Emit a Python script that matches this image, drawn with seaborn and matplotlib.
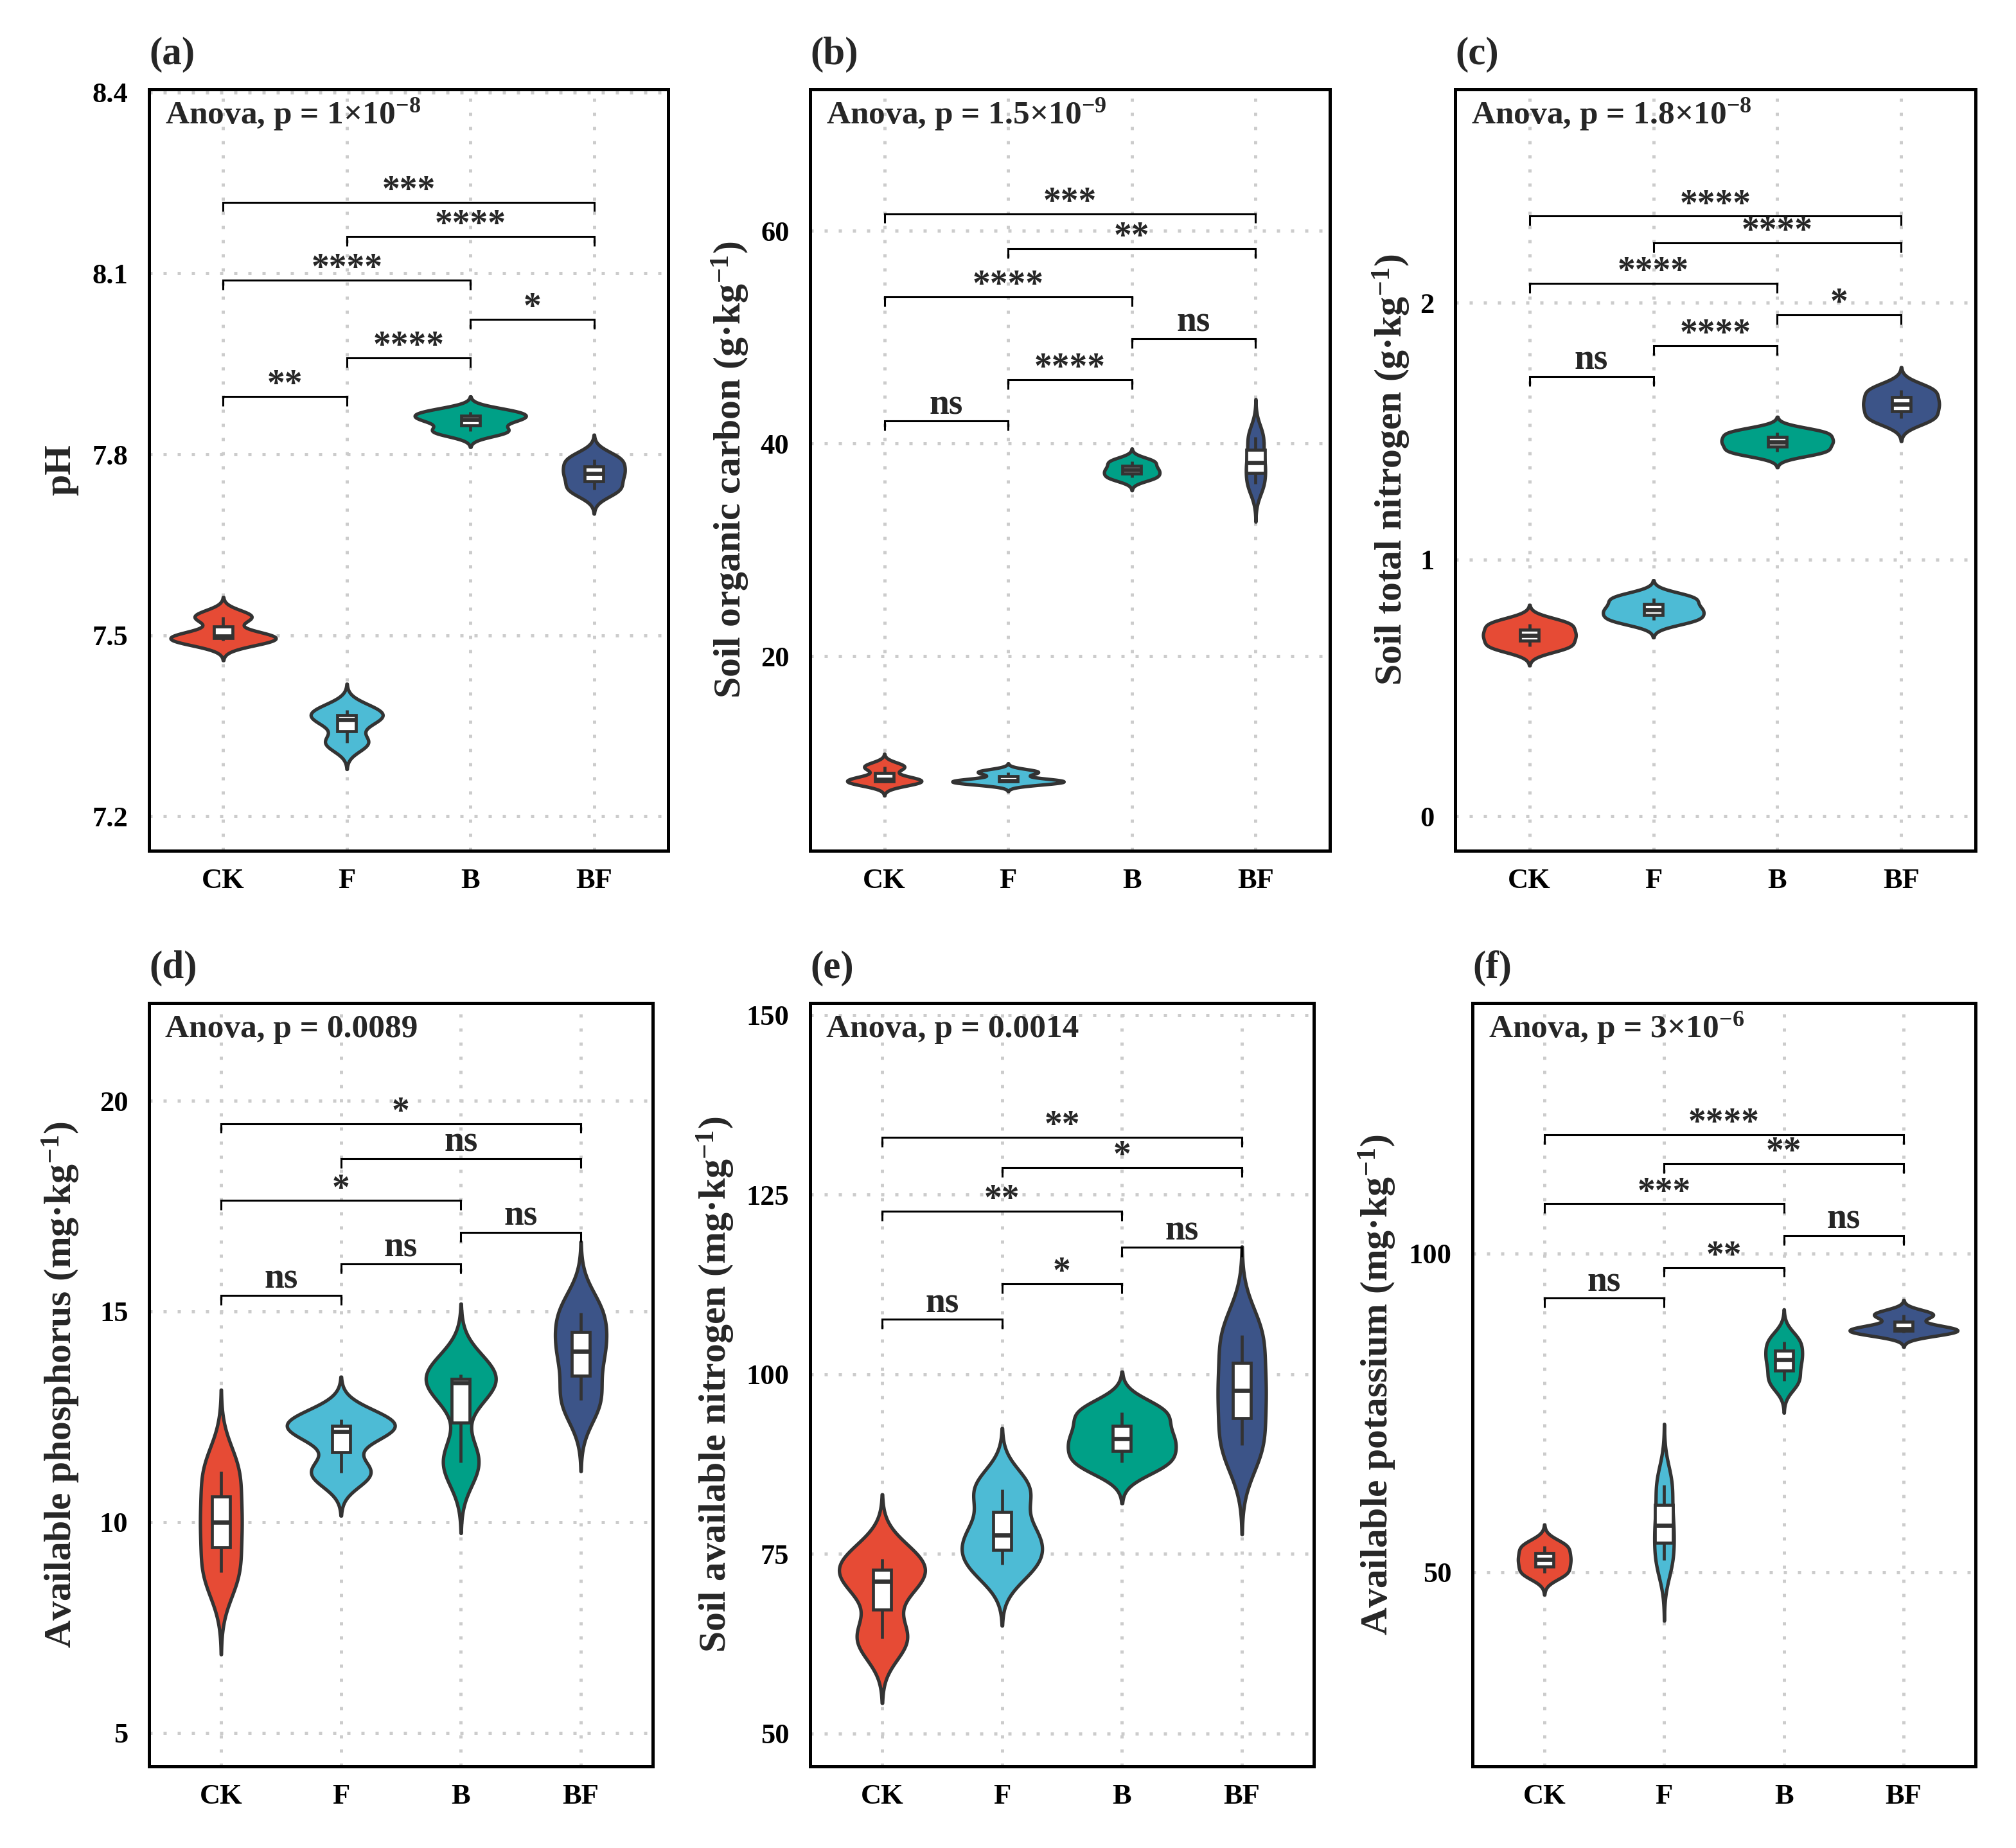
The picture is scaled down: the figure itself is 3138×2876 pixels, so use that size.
import numpy as np
import pandas as pd
import matplotlib
matplotlib.use("Agg")
import matplotlib.pyplot as plt
import seaborn as sns

# ---------------- data (n = 3 per treatment) ----------------
groups = ["CK", "F", "B", "BF"]
colors = ["#E64B35", "#4DBBD5", "#00A087", "#3C5488"]

ph = {"CK": [7.491, 7.499, 7.531], "F": [7.322, 7.360, 7.376],
      "B": [7.838, 7.858, 7.870], "BF": [7.742, 7.768, 7.792]}
soc = {"CK": [8.1, 8.4, 9.6], "F": [8.1, 8.3, 9.1],
       "B": [36.8, 37.5, 38.3], "BF": [36.2, 38.2, 40.6]}
stn = {"CK": [0.660, 0.705, 0.750], "F": [0.765, 0.805, 0.850],
       "B": [1.420, 1.458, 1.495], "BF": [1.550, 1.605, 1.660]}
ap = {"CK": [8.8, 10.0, 11.2], "F": [11.17, 12.15, 12.43],
      "B": [11.42, 13.30, 13.50], "BF": [12.89, 14.05, 14.97]}
an = {"CK": [63.2, 71.2, 74.3], "F": [73.5, 77.6, 84.0],
      "B": [87.7, 91.0, 94.7], "BF": [90.1, 97.7, 105.4]}
ak = {"CK": [49.85, 51.95, 54.05], "F": [51.9, 57.3, 63.7],
      "B": [80.0, 83.3, 86.2], "BF": [87.6, 88.2, 90.4]}

pairs = [("CK", "BF"), ("F", "BF"), ("CK", "B"), ("B", "BF"), ("F", "B"), ("CK", "F")]
ph_sig_y = [8.218, 8.161, 8.089, 8.024, 7.960, 7.896]
ph_sig = ["***", "****", "****", "*", "****", "**"]
soc_sig_y = [61.6, 58.3, 53.8, 49.85, 46.0, 42.1]
soc_sig = ["***", "**", "****", "ns", "****", "ns"]
stn_sig_y = [2.338, 2.234, 2.076, 1.953, 1.833, 1.713]
stn_sig = ["****", "****", "****", "*", "****", "ns"]
ap_sig_y = [19.46, 18.63, 17.63, 16.88, 16.13, 15.38]
ap_sig = ["*", "ns", "*", "ns", "ns", "ns"]
an_sig_y = [133.0, 128.8, 122.7, 117.7, 112.6, 107.65]
an_sig = ["**", "*", "**", "ns", "*", "ns"]
ak_sig_y = [118.6, 114.1, 107.8, 102.8, 97.8, 93.0]
ak_sig = ["****", "**", "***", "ns", "**", "ns"]

ylabels = ["pH", "Soil organic carbon (g·kg$^{\\mathbf{-1}}$)",
           "Soil total nitrogen (g·kg$^{\\mathbf{-1}}$)",
           "Available phosphorus (mg·kg$^{\\mathbf{-1}}$)",
           "Soil available nitrogen (mg·kg$^{\\mathbf{-1}}$)",
           "Available potassium (mg·kg$^{\\mathbf{-1}}$)"]
anova = [r"Anova, p = 1×10$^{\mathbf{-8}}$", r"Anova, p = 1.5×10$^{\mathbf{-9}}$",
         r"Anova, p = 1.8×10$^{\mathbf{-8}}$", "Anova, p = 0.0089",
         "Anova, p = 0.0014", r"Anova, p = 3×10$^{\mathbf{-6}}$"]
panel_tags = ["(a)", "(b)", "(c)", "(d)", "(e)", "(f)"]
yticks = [[7.2, 7.5, 7.8, 8.1, 8.4], [20, 40, 60], [0, 1, 2],
          [5, 10, 15, 20], [50, 75, 100, 125, 150], [50, 100]]
ylims = [(7.143, 8.405), (1.7, 73.3), (-0.135, 2.832),
         (4.2, 22.32), (45.4, 151.7), (19.5, 139.3)]

# ---------------- style ----------------
sns.set_style("white")
plt.rcParams["font.family"] = ["Liberation Serif", "DejaVu Serif"]
plt.rcParams["font.weight"] = "bold"
plt.rcParams["mathtext.fontset"] = "custom"
plt.rcParams["mathtext.rm"] = "Liberation Serif"
plt.rcParams["mathtext.it"] = "Liberation Serif:italic"
plt.rcParams["mathtext.bf"] = "Liberation Serif:bold"

W, H = 3138, 2876
DPI = 200
# axes boxes in pixels: left, right, top, bottom ; ylabel centre offset left of axis
layout = [(232, 1040, 139, 1324, 137), (1261, 2070, 139, 1324, 124), (2265, 3075, 139, 1324, 99),
          (232, 1016, 1561, 2749, 137), (1261, 2045, 1561, 2749, 147), (2292, 3075, 1561, 2749, 148)]


def nrd0(kde):
    """R's default bandwidth (bw.nrd0) expressed as a gaussian_kde factor."""
    x = np.asarray(kde.dataset).ravel()
    sd = np.std(x, ddof=1)
    q75, q25 = np.percentile(x, [75, 25])
    lo = min(sd, (q75 - q25) / 1.34)
    if lo <= 0:
        lo = sd if sd > 0 else 1.0
    return 0.9 * lo * len(x) ** -0.2 / sd


fig = plt.figure(figsize=(W / DPI, H / DPI), dpi=DPI)
fig.patch.set_facecolor("white")

datasets = [ph, soc, stn, ap, an, ak]
sig_ys = [ph_sig_y, soc_sig_y, stn_sig_y, ap_sig_y, an_sig_y, ak_sig_y]
sig_labs = [ph_sig, soc_sig, stn_sig, ap_sig, an_sig, ak_sig]

for i, d in enumerate(datasets):
    l, r, t, b, yoff = layout[i]
    ax = fig.add_axes([l / W, 1 - b / H, (r - l) / W, (b - t) / H])
    df = pd.DataFrame({"group": np.repeat(groups, [len(d[g]) for g in groups]),
                       "value": np.concatenate([d[g] for g in groups])})
    sns.violinplot(data=df, x="group", y="value", hue="group", order=groups,
                   hue_order=groups, palette=colors, saturation=1, inner=None,
                   width=0.9, density_norm="area", common_norm=True, cut=3,
                   gridsize=400, bw_method=nrd0, linecolor="#333333",
                   linewidth=1.9, legend=False, ax=ax)
    sns.boxplot(data=df, x="group", y="value", order=groups, width=0.15,
                color="white", linecolor="#333333", linewidth=1.7,
                showfliers=False, showcaps=False,
                medianprops=dict(linewidth=2.4), ax=ax)

    ax.set_xlim(-0.6, 3.6)
    ax.set_ylim(*ylims[i])
    ax.set_yticks(yticks[i])
    ax.set_yticklabels([f"{v:g}" for v in yticks[i]])
    ax.set_xlabel("")
    ax.set_ylabel(ylabels[i], fontsize=21.5, fontweight="bold")
    ax.yaxis.set_label_coords(-yoff / (r - l), 0.5)
    ax.yaxis.label.set_verticalalignment("center")

    ax.set_axisbelow(True)
    ax.grid(True, axis="both", color="#CCCCCC", linestyle=(0, (1, 3.4)), linewidth=1.8)
    for sp in ax.spines.values():
        sp.set_visible(True)
        sp.set_color("black")
        sp.set_linewidth(1.8)
    ax.tick_params(axis="both", direction="out", length=5.2, width=1.3,
                   color="black", labelsize=16, labelcolor="black")
    ax.tick_params(axis="x", pad=4.5)
    ax.tick_params(axis="y", pad=6.5)
    for lab in ax.get_xticklabels() + ax.get_yticklabels():
        lab.set_fontweight("bold")

    # significance brackets
    rng = ylims[i][1] - ylims[i][0]
    tip = 0.0125 * rng
    for (g1, g2), y, lab in zip(pairs, sig_ys[i], sig_labs[i]):
        x1, x2 = groups.index(g1), groups.index(g2)
        ax.plot([x1, x1, x2, x2], [y - tip, y, y, y - tip], color="black",
                lw=1.1, solid_capstyle="butt", solid_joinstyle="miter", zorder=5)
        off = 1 if "*" in lab else 4
        ax.annotate(lab, xy=((x1 + x2) / 2, y), xytext=(0, off),
                    textcoords="offset points", ha="center", va="baseline",
                    fontsize=20, fontweight="bold", zorder=6)

    ax.annotate(anova[i], xy=(0, 1), xycoords="axes fraction", xytext=(9, -19),
                textcoords="offset points", ha="left", va="baseline",
                fontsize=18.5, fontweight="bold")
    ax.annotate(panel_tags[i], xy=(0, 1), xycoords="axes fraction", xytext=(0, 14),
                textcoords="offset points", ha="left", va="baseline",
                fontsize=22, fontweight="bold")

fig.savefig("out.png", dpi=DPI, facecolor="white")
